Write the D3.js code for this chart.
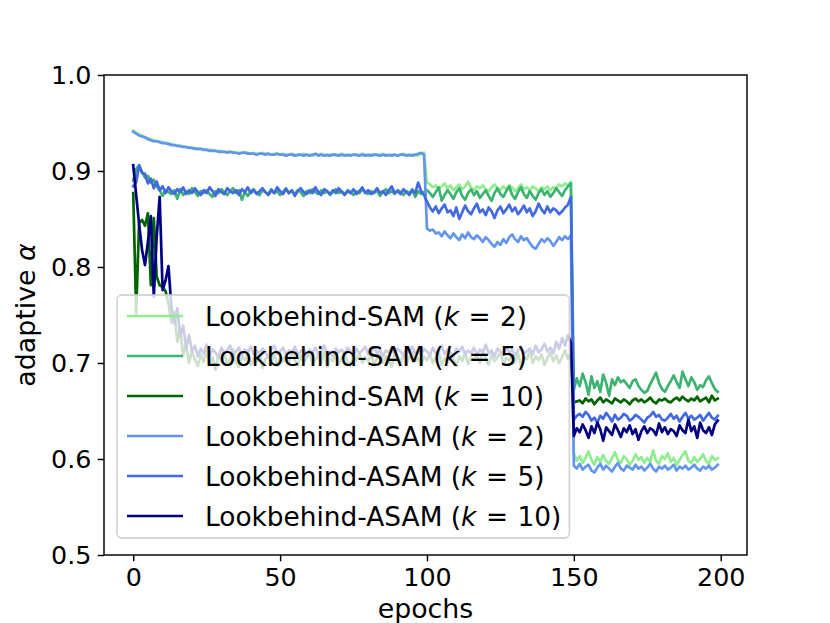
<!DOCTYPE html>
<html>
<head>
<meta charset="utf-8">
<script src="https://cdn.jsdelivr.net/npm/d3@7"></script>
<style>
  body { margin: 0; background: #fff; }
  text { font-family: "DejaVu Sans", sans-serif; }
</style>
</head>
<body>
<div id="chart"></div>
<script>
// Epoch indices and tick labels
const epochs = d3.range(200);
const xTicks = [0, 50, 100, 150, 200];
const yTicks = [0.5, 0.6, 0.7, 0.8, 0.9, 1.0];

// Series values
const samK2 = [
  0.942,0.940,0.938,0.937,0.935,0.934,0.933,0.932,0.931,0.931,
  0.930,0.929,0.929,0.928,0.927,0.927,0.926,0.926,0.925,0.925,
  0.924,0.924,0.923,0.923,0.923,0.922,0.922,0.922,0.921,0.921,
  0.921,0.920,0.920,0.920,0.920,0.919,0.919,0.919,0.920,0.919,
  0.918,0.919,0.918,0.918,0.919,0.918,0.918,0.917,0.918,0.918,
  0.917,0.918,0.917,0.917,0.918,0.917,0.916,0.917,0.918,0.917,
  0.917,0.916,0.917,0.917,0.918,0.917,0.916,0.917,0.917,0.916,
  0.917,0.918,0.917,0.916,0.917,0.917,0.916,0.917,0.918,0.917,
  0.916,0.917,0.917,0.916,0.917,0.918,0.917,0.916,0.917,0.917,
  0.916,0.917,0.918,0.917,0.916,0.917,0.917,0.916,0.918,0.919,
  0.888,0.886,0.883,0.885,0.881,0.884,0.887,0.882,0.885,0.880,
  0.883,0.886,0.881,0.884,0.889,0.883,0.880,0.884,0.882,0.885,
  0.881,0.879,0.883,0.886,0.882,0.880,0.884,0.881,0.885,0.883,
  0.879,0.882,0.886,0.881,0.883,0.880,0.884,0.882,0.879,0.883,
  0.881,0.884,0.880,0.883,0.882,0.886,0.884,0.887,0.885,0.889,
  0.606,0.598,0.603,0.596,0.601,0.608,0.599,0.594,0.602,0.597,
  0.604,0.598,0.595,0.601,0.607,0.599,0.596,0.603,0.600,0.594,
  0.598,0.605,0.599,0.602,0.596,0.601,0.597,0.609,0.598,0.595,
  0.603,0.600,0.606,0.597,0.601,0.594,0.599,0.604,0.608,0.598,
  0.596,0.602,0.597,0.600,0.605,0.598,0.595,0.603,0.599,0.601
];
const samK5 = [
  0.890,0.902,0.906,0.899,0.893,0.895,0.888,0.891,0.884,0.880,
  0.874,0.880,0.878,0.876,0.880,0.871,0.881,0.875,0.879,0.876,
  0.882,0.878,0.874,0.879,0.877,0.880,0.876,0.873,0.879,0.877,
  0.881,0.878,0.875,0.879,0.882,0.877,0.880,0.870,0.878,0.874,
  0.879,0.881,0.877,0.875,0.880,0.878,0.876,0.881,0.877,0.879,
  0.875,0.878,0.882,0.877,0.879,0.876,0.880,0.878,0.874,0.879,
  0.877,0.881,0.878,0.876,0.880,0.877,0.879,0.875,0.878,0.881,
  0.877,0.879,0.876,0.880,0.878,0.875,0.879,0.877,0.881,0.878,
  0.876,0.879,0.877,0.880,0.874,0.878,0.881,0.877,0.879,0.876,
  0.880,0.878,0.875,0.879,0.877,0.881,0.873,0.879,0.876,0.878,
  0.880,0.877,0.873,0.878,0.883,0.869,0.875,0.880,0.876,0.871,
  0.878,0.882,0.874,0.870,0.877,0.881,0.875,0.879,0.872,0.876,
  0.880,0.874,0.869,0.877,0.882,0.876,0.873,0.879,0.884,0.875,
  0.871,0.878,0.883,0.876,0.872,0.879,0.874,0.870,0.877,0.881,
  0.875,0.879,0.873,0.877,0.882,0.878,0.874,0.880,0.884,0.887,
  0.672,0.684,0.676,0.689,0.680,0.667,0.686,0.674,0.681,0.670,
  0.688,0.679,0.666,0.683,0.677,0.685,0.680,0.682,0.678,0.674,
  0.681,0.683,0.676,0.672,0.669,0.671,0.678,0.684,0.690,0.679,
  0.673,0.670,0.676,0.681,0.687,0.680,0.674,0.691,0.683,0.676,
  0.685,0.680,0.672,0.677,0.675,0.682,0.686,0.679,0.673,0.670
];
const samK10 = [
  0.877,0.752,0.846,0.849,0.843,0.856,0.781,0.851,0.790,0.781,
  0.779,0.775,0.762,0.742,0.753,0.722,0.735,0.708,0.720,0.700,
  0.712,0.704,0.697,0.709,0.701,0.714,0.699,0.706,0.693,0.708,
  0.702,0.711,0.698,0.705,0.714,0.700,0.696,0.707,0.703,0.710,
  0.698,0.705,0.701,0.712,0.695,0.704,0.708,0.700,0.711,0.697,
  0.706,0.702,0.709,0.699,0.713,0.703,0.697,0.708,0.701,0.705,
  0.711,0.698,0.704,0.707,0.700,0.712,0.696,0.705,0.702,0.709,
  0.699,0.706,0.710,0.701,0.697,0.708,0.703,0.711,0.700,0.706,
  0.702,0.709,0.698,0.705,0.712,0.700,0.707,0.703,0.696,0.710,
  0.704,0.701,0.708,0.699,0.706,0.711,0.702,0.705,0.698,0.707,
  0.703,0.709,0.700,0.706,0.712,0.698,0.705,0.701,0.710,0.704,
  0.697,0.707,0.702,0.711,0.699,0.706,0.703,0.708,0.700,0.713,
  0.704,0.698,0.709,0.702,0.706,0.711,0.699,0.705,0.703,0.708,
  0.701,0.710,0.697,0.706,0.704,0.712,0.700,0.707,0.703,0.709,
  0.698,0.705,0.711,0.702,0.708,0.700,0.706,0.713,0.704,0.710,
  0.659,0.660,0.661,0.658,0.663,0.660,0.662,0.657,0.661,0.664,
  0.659,0.662,0.660,0.658,0.663,0.661,0.659,0.662,0.660,0.657,
  0.661,0.663,0.660,0.662,0.659,0.661,0.664,0.660,0.658,0.662,
  0.661,0.663,0.660,0.659,0.662,0.664,0.661,0.665,0.662,0.660,
  0.663,0.661,0.665,0.660,0.662,0.664,0.659,0.666,0.661,0.663
];
const asamK2 = [
  0.941,0.939,0.937,0.936,0.935,0.933,0.932,0.931,0.931,0.930,
  0.929,0.929,0.928,0.927,0.927,0.926,0.926,0.925,0.925,0.924,
  0.924,0.923,0.923,0.923,0.922,0.922,0.921,0.921,0.921,0.920,
  0.920,0.920,0.919,0.920,0.919,0.919,0.918,0.919,0.919,0.918,
  0.918,0.918,0.917,0.918,0.918,0.917,0.918,0.917,0.917,0.918,
  0.917,0.917,0.916,0.917,0.917,0.916,0.917,0.917,0.916,0.917,
  0.916,0.917,0.918,0.916,0.917,0.916,0.917,0.916,0.917,0.917,
  0.916,0.917,0.916,0.917,0.916,0.917,0.917,0.916,0.917,0.916,
  0.917,0.916,0.917,0.917,0.916,0.917,0.916,0.917,0.916,0.917,
  0.916,0.917,0.917,0.916,0.917,0.916,0.917,0.918,0.919,0.917,
  0.840,0.838,0.839,0.835,0.836,0.832,0.837,0.833,0.830,0.835,
  0.831,0.828,0.834,0.830,0.836,0.831,0.829,0.833,0.830,0.826,
  0.831,0.828,0.824,0.821,0.826,0.823,0.829,0.825,0.831,0.834,
  0.829,0.826,0.832,0.828,0.830,0.825,0.821,0.819,0.824,0.829,
  0.826,0.830,0.827,0.822,0.826,0.831,0.828,0.832,0.829,0.833,
  0.593,0.590,0.595,0.589,0.592,0.594,0.588,0.586,0.591,0.595,
  0.589,0.593,0.590,0.587,0.592,0.596,0.590,0.588,0.593,0.591,
  0.589,0.594,0.590,0.592,0.588,0.591,0.595,0.590,0.587,0.592,
  0.590,0.593,0.589,0.591,0.594,0.588,0.592,0.590,0.593,0.589,
  0.591,0.594,0.590,0.588,0.592,0.590,0.593,0.589,0.591,0.594
];
const asamK5 = [
  0.884,0.888,0.906,0.898,0.897,0.887,0.892,0.882,0.889,0.880,
  0.884,0.877,0.883,0.879,0.876,0.881,0.878,0.883,0.876,0.880,
  0.877,0.882,0.878,0.875,0.880,0.877,0.883,0.879,0.874,0.881,
  0.878,0.876,0.882,0.879,0.877,0.880,0.875,0.881,0.878,0.883,
  0.877,0.880,0.876,0.879,0.882,0.878,0.875,0.880,0.877,0.883,
  0.879,0.876,0.881,0.877,0.880,0.874,0.879,0.882,0.878,0.876,
  0.880,0.877,0.883,0.878,0.875,0.881,0.879,0.876,0.880,0.877,
  0.882,0.878,0.875,0.879,0.877,0.881,0.876,0.879,0.883,0.877,
  0.880,0.876,0.878,0.882,0.877,0.879,0.875,0.880,0.884,0.877,
  0.879,0.876,0.881,0.878,0.875,0.880,0.877,0.888,0.879,0.875,
  0.868,0.862,0.858,0.863,0.856,0.861,0.865,0.857,0.859,0.853,
  0.862,0.850,0.857,0.864,0.858,0.855,0.861,0.866,0.857,0.860,
  0.854,0.862,0.858,0.851,0.859,0.863,0.856,0.860,0.865,0.858,
  0.862,0.855,0.859,0.864,0.857,0.861,0.853,0.858,0.866,0.860,
  0.856,0.863,0.857,0.861,0.859,0.855,0.858,0.862,0.865,0.873,
  0.641,0.645,0.647,0.644,0.649,0.646,0.640,0.643,0.638,0.645,
  0.642,0.648,0.644,0.639,0.646,0.641,0.643,0.647,0.645,0.640,
  0.642,0.646,0.644,0.641,0.638,0.643,0.645,0.649,0.644,0.646,
  0.641,0.640,0.643,0.647,0.642,0.645,0.639,0.644,0.648,0.642,
  0.645,0.641,0.643,0.646,0.640,0.644,0.648,0.643,0.641,0.645
];
const asamK10 = [
  0.906,0.875,0.845,0.818,0.802,0.826,0.853,0.769,0.832,0.873,
  0.776,0.786,0.801,0.758,0.741,0.757,0.728,0.739,0.716,0.729,
  0.712,0.718,0.707,0.715,0.710,0.719,0.708,0.714,0.711,0.706,
  0.716,0.710,0.713,0.718,0.709,0.712,0.716,0.707,0.714,0.711,
  0.717,0.709,0.713,0.708,0.715,0.711,0.706,0.714,0.718,0.710,
  0.712,0.716,0.708,0.713,0.710,0.717,0.709,0.712,0.715,0.707,
  0.714,0.711,0.716,0.709,0.713,0.718,0.710,0.712,0.707,0.715,
  0.711,0.714,0.709,0.716,0.712,0.708,0.715,0.710,0.713,0.717,
  0.709,0.712,0.716,0.710,0.714,0.707,0.713,0.711,0.716,0.709,
  0.715,0.712,0.708,0.714,0.711,0.717,0.710,0.713,0.709,0.715,
  0.712,0.708,0.716,0.710,0.713,0.718,0.709,0.714,0.711,0.707,
  0.715,0.712,0.717,0.709,0.713,0.710,0.716,0.708,0.714,0.711,
  0.719,0.710,0.713,0.707,0.715,0.712,0.709,0.716,0.711,0.714,
  0.708,0.713,0.717,0.710,0.712,0.715,0.709,0.718,0.711,0.714,
  0.720,0.712,0.716,0.710,0.722,0.715,0.726,0.718,0.729,0.721,
  0.624,0.632,0.628,0.636,0.630,0.622,0.634,0.627,0.638,0.631,
  0.619,0.633,0.629,0.625,0.636,0.630,0.623,0.632,0.628,0.635,
  0.626,0.631,0.620,0.629,0.634,0.627,0.632,0.630,0.625,0.637,
  0.628,0.633,0.626,0.631,0.629,0.624,0.635,0.630,0.627,0.641,
  0.629,0.634,0.622,0.638,0.630,0.627,0.633,0.625,0.636,0.640
];

const seriesNames = ["Lookbehind-SAM", "Lookbehind-SAM", "Lookbehind-SAM",
  "Lookbehind-ASAM", "Lookbehind-ASAM", "Lookbehind-ASAM"];
const seriesK = [2, 5, 10, 2, 5, 10];
const seriesValues = [samK2, samK5, samK10, asamK2, asamK5, asamK10];
const colors = ["#90ee90", "#3cb371", "#006400", "#6495ed", "#4169e1", "#000080"];

// Figure and axes box
const W = 830, H = 623;
const margin = {top: 75, right: 83, bottom: 68, left: 104},
width = W - margin.left - margin.right,
height = H - margin.top - margin.bottom;
const tickFont = 25.4, labelFont = 26.8, legendFont = 26.4;
const tickLen = 6.3;

const svg = d3.select("#chart").append("svg")
  .attr("width", W)
  .attr("height", H);
const g = svg.append("g")
  .attr("transform", "translate(" + margin.left + "," + margin.top + ")");

// Scales (x padded 5% like matplotlib)
const xExt = d3.extent(epochs);
const xPad = (xExt[1] - xExt[0]) * 0.05;
const x = d3.scaleLinear()
  .domain([xExt[0] - xPad, xExt[1] + xPad])
  .range([0, width]);
const y = d3.scaleLinear()
  .domain([0.5, 1.0])
  .range([height, 0]);

// Clip lines to the axes
g.append("clipPath").attr("id", "clip")
  .append("rect").attr("width", width).attr("height", height);

const line = d3.line()
  .x((d, i) => x(epochs[i]))
  .y(d => y(d));

g.append("g").attr("clip-path", "url(#clip)")
  .selectAll("path")
  .data(seriesValues)
  .enter().append("path")
  .attr("d", line)
  .attr("fill", "none")
  .attr("stroke", (d, i) => colors[i])
  .attr("stroke-width", 2.7)
  .attr("stroke-linejoin", "round")
  .attr("stroke-linecap", "square");

// Axes
const xAxis = g.append("g")
  .attr("transform", "translate(0," + height + ")")
  .call(d3.axisBottom(x).tickValues(xTicks).tickSize(tickLen).tickPadding(6.3).tickSizeOuter(0));
const yAxis = g.append("g")
  .call(d3.axisLeft(y).tickValues(yTicks).tickFormat(d3.format(".1f")).tickSize(tickLen).tickPadding(6.3).tickSizeOuter(0));

[xAxis, yAxis].forEach(a => {
  a.select(".domain").remove();
  a.selectAll(".tick line").attr("stroke", "#000").attr("stroke-width", 1.44);
  a.selectAll(".tick text")
    .attr("fill", "#000")
    .style("font-size", tickFont + "px")
    .style("font-family", "DejaVu Sans");
});

// Frame
g.append("rect")
  .attr("width", width)
  .attr("height", height)
  .attr("fill", "none")
  .attr("stroke", "#000")
  .attr("stroke-width", 1.44);

// Axis labels
g.append("text")
  .attr("x", width / 2)
  .attr("y", height + 63)
  .attr("text-anchor", "middle")
  .style("font-size", labelFont + "px")
  .text("epochs");

const yLab = g.append("text")
  .attr("transform", "translate(" + (-69) + "," + (height / 2) + ") rotate(-90)")
  .attr("text-anchor", "middle")
  .style("font-size", labelFont + "px");
yLab.append("tspan").text("adaptive ");
yLab.append("tspan").style("font-style", "italic").text("\u03b1");

// Legend
const legLeft = 13, legBottom = height - 17, rowH = 40, legPad = 21;
const nRows = seriesNames.length;
const legTop = legBottom - nRows * rowH - 3;
const legend = g.append("g");
const legBox = legend.append("rect")
  .attr("x", legLeft)
  .attr("y", legTop)
  .attr("height", legBottom - legTop)
  .attr("rx", 5)
  .attr("fill", "#fff")
  .attr("fill-opacity", 0.8)
  .attr("stroke", "#ccc")
  .attr("stroke-opacity", 0.8)
  .attr("stroke-width", 1.8);

let maxW = 0;
seriesNames.forEach((name, i) => {
  const cy = legTop + legPad + i * rowH;
  legend.append("line")
    .attr("x1", legLeft + 10).attr("x2", legLeft + 66)
    .attr("y1", cy).attr("y2", cy)
    .attr("stroke", colors[i])
    .attr("stroke-width", 2.7);
  const t = legend.append("text")
    .attr("x", legLeft + 88)
    .attr("y", cy)
    .attr("dy", "0.36em")
    .style("font-size", legendFont + "px");
  t.append("tspan").text(name + " (");
  t.append("tspan").style("font-style", "italic").text("k");
  t.append("tspan").attr("dx", "0.36em").text("=");
  t.append("tspan").attr("dx", "0.36em").text(seriesK[i]);
  t.append("tspan").text(")");
  maxW = Math.max(maxW, t.node().getBBox().width);
});
legBox.attr("width", 88 + maxW + 8);
</script>
</body>
</html>
